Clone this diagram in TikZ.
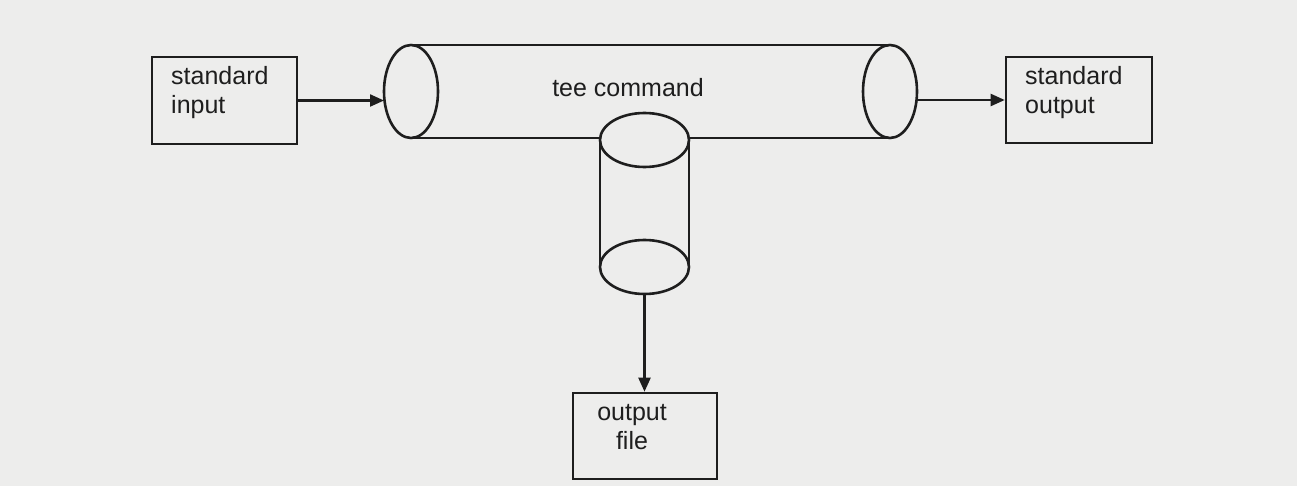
\documentclass[tikz,border=0pt]{standalone}
\usepackage{fontspec}
\setmainfont{Liberation Sans}
\usetikzlibrary{shapes.geometric,arrows.meta}
\definecolor{ink}{HTML}{1E1E1E}
\definecolor{paper}{HTML}{EDEDEC}
\tikzset{
  ln/.style={draw=ink, line width=2.6pt},
  box/.style={ln, rectangle, inner sep=0pt},
  ell/.style={ln, ellipse, inner sep=0pt, outer sep=0pt},
  lbl/.style={text=ink, font=\fontsize{25}{29}\selectfont, inner sep=0pt},
  arr/.style={draw=ink, line width=2.2pt, -{Triangle[length=14pt,width=12pt]}},
}
\begin{document}
\begin{tikzpicture}[x=1pt,y=-1pt]
\useasboundingbox[fill=paper] (0,0) rectangle (1297,486);
% boxes
\node[box, minimum width=145pt, minimum height=87pt] (inbox) at (224.5,100.5) {};
\node[box, minimum width=146pt, minimum height=86pt] (outbox) at (1079,100) {};
\node[box, minimum width=144pt, minimum height=86pt] (filebox) at (645,436) {};
\node[lbl, anchor=west, align=left] (intxt) at (171,92.5) {standard\\input};
\node[lbl, anchor=west, align=left] (outtxt) at (1025,92.5) {standard\\output};
\node[lbl, align=center] (filetxt) at (632,427.5) {output\\file};
% horizontal tube
\node[ell, minimum width=54pt, minimum height=93pt] (lend) at (411,91.5) {};
\node[ell, minimum width=54pt, minimum height=93pt] (rend) at (890,91.5) {};
\node[lbl] (teetxt) at (628,88) {tee command};
% vertical cylinder
\node[ell, minimum width=89pt, minimum height=54pt] (ctop) at (644.5,140) {};
\node[ell, minimum width=89pt, minimum height=54pt] (cbot) at (644.5,267) {};
\draw[ln] (lend.north) -- (rend.north);
\draw[ln] (lend.south) -- (ctop.west |- lend.south);
\draw[ln] (ctop.east |- rend.south) -- (rend.south);
\draw[ln] (ctop.west) -- (cbot.west);
\draw[ln] (ctop.east) -- (cbot.east);
% connectors
\draw[arr] (inbox.east) -- (lend.west |- inbox.east);
\draw[arr] (rend.east |- outbox.west) -- (outbox.west);
\draw[arr] (cbot.south) -- (cbot.south |- filebox.north);
\end{tikzpicture}
\end{document}
